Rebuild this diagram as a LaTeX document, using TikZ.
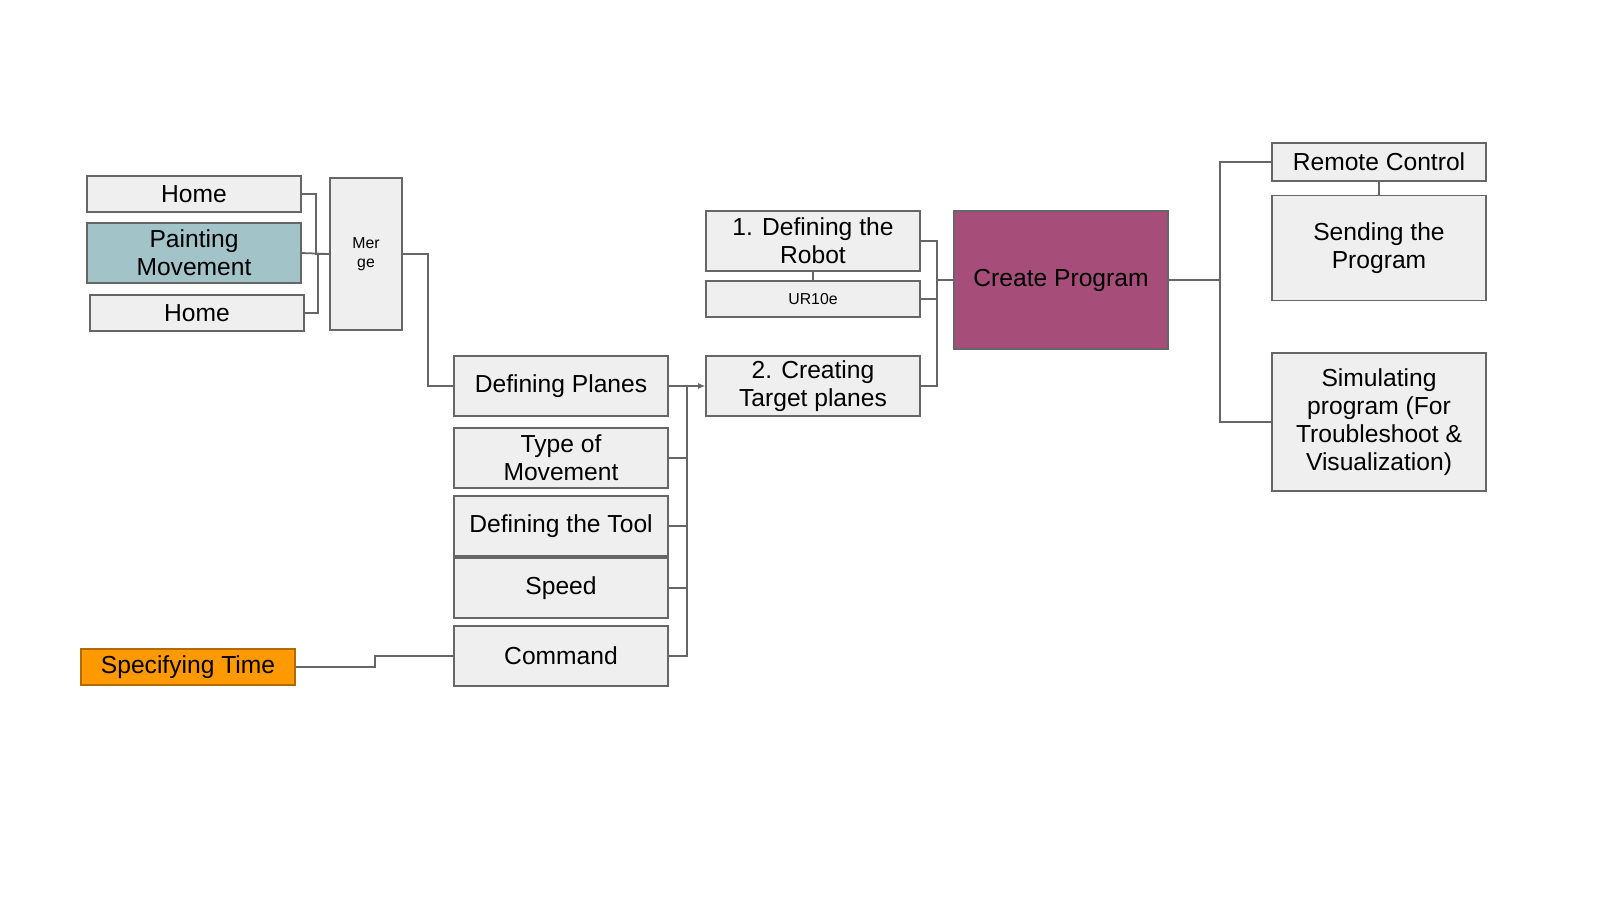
\documentclass[tikz,border=0pt]{standalone}
\usepackage{fontspec}
\setmainfont{Liberation Sans}
\usetikzlibrary{positioning,arrows.meta}
\definecolor{boxfill}{HTML}{EFEFEF}
\definecolor{boxline}{HTML}{666666}
\definecolor{teal1}{HTML}{A2C4C9}
\definecolor{plum}{HTML}{A64D79}
\definecolor{orng}{HTML}{FF9900}
\tikzset{
  box/.style={draw=boxline, fill=boxfill, inner sep=1pt, align=center, font=\fontsize{7}{8}\selectfont},
  wide/.style={box, minimum width=2.14cm},
  link/.style={draw=boxline, line width=0.5pt}
}
\begin{document}
\begin{tikzpicture}[x=0.01cm,y=-0.01cm,>={Latex[length=0.7mm,width=0.6mm]}]
\useasboundingbox (0,0) rectangle (1600,900);
% left group
\node[wide, minimum height=0.36cm] (home1) at (194,194) {Home};
\node[wide, minimum height=0.6cm, fill=teal1] (paint) at (194,253) {Painting\\Movement};
\node[wide, minimum height=0.36cm] (home2) at (197,313) {Home};
\node[box, minimum width=0.72cm, minimum height=1.52cm, font=\fontsize{4.5}{5.5}\selectfont] (merge) at (366,254) {Mer\\ge};
% middle column
\node[wide, minimum height=0.6cm] (planes) at (561,386) {Defining Planes};
\node[wide, minimum height=0.6cm] (type) at (561,458) {Type of\\Movement};
\node[wide, minimum height=0.6cm] (tool) at (561,526) {Defining the Tool};
\node[wide, minimum height=0.6cm] (speed) at (561,588) {Speed};
\node[wide, minimum height=0.6cm] (cmd) at (561,656) {Command};
\node[wide, minimum height=0.36cm, fill=orng, draw=orng!70!black] (time) at (188,667) {Specifying Time};
% robot column
\node[wide, minimum height=0.6cm] (robot) at (813,241) {1. Defining the\\Robot};
\node[wide, minimum height=0.36cm, font=\fontsize{4.5}{5.5}\selectfont] (ur) at (813,299) {UR10e};
\node[wide, minimum height=0.6cm] (target) at (813,386) {2. Creating\\Target planes};
\node[wide, minimum height=1.38cm, fill=plum] (prog) at (1061,280) {Create Program};
% right column
\node[wide, minimum height=0.38cm] (remote) at (1379,162) {Remote Control};
\node[wide, minimum height=1.05cm] (send) at (1379,248) {Sending the\\Program};
\node[wide, minimum height=1.38cm] (sim) at (1379,422) {Simulating\\program (For\\Troubleshoot \&\\Visualization)};
% connectors
\draw[link] (home1.east) -| (316,254) -- (merge.west);
\draw[link] (paint.east) -- (merge.west);
\draw[link] (home2.east) -| (318,254);
\draw[link] (merge.east) -| (428,386) -- (planes.west);
\draw[link,->] (planes.east) -- (target.west);
\foreach \n in {type,tool,speed,cmd}
  \draw[link] (\n.east) -| (687,386);
\draw[link] (time.east) -| (375,656) -- (cmd.west);
\draw[link] (robot.east) -| (937,386) -- (target.east);
\draw[link] (ur.east) -- (937,299);
\draw[link] (937,280) -- (prog.west);
\draw[link] (robot.south) -- (ur.north);
\draw[link] (prog.east) -- (1220,280);
\draw[link] (remote.west) -| (1220,422) -- (sim.west);
\draw[link] (remote.south) -- (send.north);
\end{tikzpicture}
\end{document}
